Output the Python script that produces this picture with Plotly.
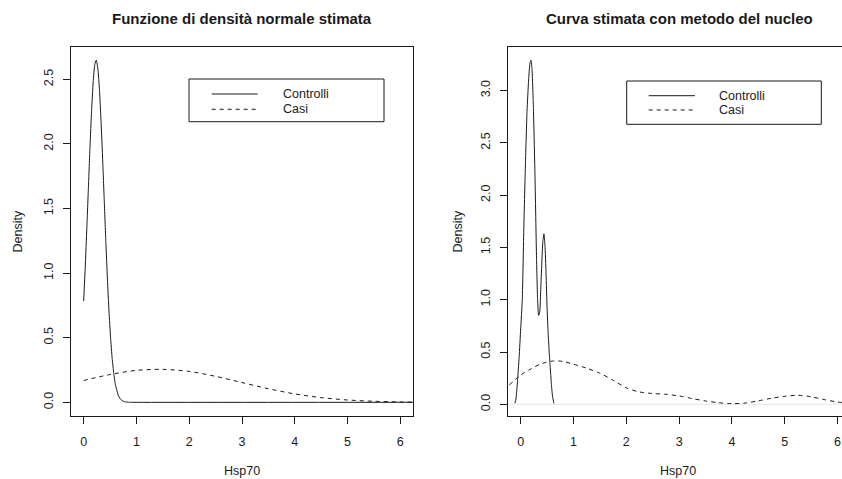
import plotly.graph_objects as go

W, H = 842, 479

# ---- Left panel: normal densities fitted to the two groups ----
norm_ctrl_x = [0.0, 0.03, 0.06, 0.09, 0.12, 0.15, 0.18, 0.21, 0.24, 0.27, 0.30,
               0.33, 0.36, 0.39, 0.42, 0.45, 0.48, 0.51, 0.54, 0.57,
               0.60, 0.66, 0.72, 0.78, 0.84, 0.90, 6.24]
norm_ctrl_y = [0.783, 1.048, 1.348, 1.666, 1.979, 2.258, 2.479, 2.614, 2.649, 2.579,
               2.414, 2.172, 1.876, 1.559, 1.245, 0.955, 0.704, 0.499, 0.340, 0.223,
               0.140, 0.049, 0.015, 0.004, 0.001, 0.0, 0.0]

norm_casi_x = [0.0, 0.5, 1.0, 1.5, 2.0, 2.5, 3.0, 3.5, 4.0, 4.5, 5.0, 5.5, 6.0, 6.24]
norm_casi_y = [0.169, 0.215, 0.247, 0.255, 0.239, 0.201, 0.153, 0.105, 0.065,
               0.036, 0.018, 0.008, 0.003, 0.002]

# ---- Right panel: kernel density estimates ----
kde_ctrl_x = [-0.11, -0.09, -0.06, -0.03, 0.0, 0.03, 0.06, 0.09, 0.12, 0.15,
              0.175, 0.195, 0.215, 0.24, 0.27, 0.30, 0.32, 0.34, 0.36, 0.38,
              0.40, 0.42, 0.44, 0.46, 0.48, 0.50, 0.52, 0.54, 0.56, 0.58,
              0.60, 0.62, 0.63]
kde_ctrl_y = [0.01, 0.05, 0.22, 0.45, 0.72, 1.0, 1.7, 2.3, 2.8, 3.1,
              3.26, 3.29, 3.2, 2.85, 2.2, 1.4, 1.0, 0.85, 0.88, 1.1,
              1.35, 1.56, 1.63, 1.52, 1.25, 0.92, 0.68, 0.50, 0.35, 0.20,
              0.09, 0.03, 0.01]

kde_casi_x = [-0.215, 0.0, 0.2, 0.4, 0.62, 0.8, 1.0, 1.25, 1.5, 1.75, 2.0,
              2.25, 2.5, 2.75, 3.0, 3.25, 3.5, 3.75, 4.0, 4.25, 4.5, 4.75,
              5.0, 5.25, 5.5, 5.75, 6.0, 6.25]
kde_casi_y = [0.185, 0.28, 0.34, 0.39, 0.414, 0.41, 0.383, 0.345, 0.297, 0.23,
              0.158, 0.118, 0.103, 0.096, 0.08, 0.055, 0.032, 0.015, 0.006,
              0.012, 0.033, 0.058, 0.076, 0.086, 0.072, 0.045, 0.022, 0.01]

x_ticks = [0, 1, 2, 3, 4, 5, 6]
y_ticks_left = [0.0, 0.5, 1.0, 1.5, 2.0, 2.5]
y_ticks_right = [0.0, 0.5, 1.0, 1.5, 2.0, 2.5, 3.0]

titles = ["Funzione di densità normale stimata", "Curva stimata con metodo del nucleo"]
legend_labels = ["Controlli", "Casi"]

FONT = "Liberation Sans, Arial, Helvetica, sans-serif"
INK = "#1a1a1a"


def px_x(p):
    return p / W


def px_y(p):
    return 1 - p / H


# plot-region pixel boxes (left, top, right, bottom)
box_l = (71, 47, 413, 416)
box_r = (507.7, 46.7, 842, 416.3)

fig = go.Figure()

solid = dict(color=INK, width=1)
dashed = dict(color=INK, width=1, dash="4px,4px")

fig.add_trace(go.Scatter(x=norm_ctrl_x, y=norm_ctrl_y, mode="lines",
                         line=dict(solid, shape="spline", smoothing=0.4),
                         xaxis="x", yaxis="y", showlegend=False))
fig.add_trace(go.Scatter(x=norm_casi_x, y=norm_casi_y, mode="lines",
                         line=dict(dashed, shape="spline", smoothing=0.8),
                         xaxis="x", yaxis="y", showlegend=False))
fig.add_trace(go.Scatter(x=kde_ctrl_x, y=kde_ctrl_y, mode="lines",
                         line=dict(solid, shape="spline", smoothing=0.5),
                         xaxis="x2", yaxis="y2", showlegend=False))
fig.add_trace(go.Scatter(x=kde_casi_x, y=kde_casi_y, mode="lines",
                         line=dict(dashed, shape="spline", smoothing=0.8),
                         xaxis="x2", yaxis="y2", showlegend=False))

tickfont = dict(family=FONT, size=12.5, color=INK)


def xaxis(box, rng, mirror=True):
    return dict(domain=[px_x(box[0]), px_x(box[2])], range=rng, anchor=None,
                showgrid=False, zeroline=False, showline=True, mirror=mirror,
                linecolor=INK, linewidth=1, ticks="outside", ticklen=7,
                tickcolor=INK, tickvals=x_ticks, tickfont=tickfont,
                ticklabelstandoff=7)


def yaxis(box, rng, ticks, mirror=True):
    return dict(domain=[px_y(box[3]), px_y(box[1])], range=rng,
                showgrid=False, zeroline=False, showline=True, mirror=mirror,
                linecolor=INK, linewidth=1, ticks="outside", ticklen=7,
                tickcolor=INK, tickvals=ticks, ticktext=[f"{t:.1f}" for t in ticks],
                tickangle=-90, tickfont=tickfont, ticklabelstandoff=5)


xa1 = xaxis(box_l, [-0.24, 6.24]); xa1["anchor"] = "y"
ya1 = yaxis(box_l, [-0.106, 2.75], y_ticks_left); ya1["anchor"] = "x"
xa2 = xaxis(box_r, [-0.246, 6.085]); xa2["anchor"] = "y2"
ya2 = yaxis(box_r, [-0.1147, 3.419], y_ticks_right, mirror=False); ya2["anchor"] = "x2"

annotations = []
shapes = []

# panel titles
for title, cx in zip(titles, [242, 679]):
    annotations.append(dict(text=f"<b>{title}</b>", x=px_x(cx), y=px_y(18),
                            xref="paper", yref="paper", showarrow=False,
                            xanchor="center", yanchor="middle",
                            font=dict(family=FONT, size=15, color=INK)))

# axis titles
for cx in [242, 678]:
    annotations.append(dict(text="Hsp70", x=px_x(cx), y=px_y(471), xref="paper",
                            yref="paper", showarrow=False, xanchor="center",
                            yanchor="middle", font=tickfont))
for cx in [17, 457]:
    annotations.append(dict(text="Density", x=px_x(cx), y=px_y(231.5), xref="paper",
                            yref="paper", showarrow=False, textangle=-90,
                            xanchor="center", yanchor="middle", font=tickfont))

# faint zero baseline of the kernel density plot
shapes.append(dict(type="line", xref="x2 domain", yref="y2", x0=0, x1=1, y0=0, y1=0,
                   line=dict(color="#e6e6e6", width=1), layer="below"))

# legends: (box l, t, r, b), line x0, x1, row ys, text x
legends = [
    ((189, 79, 384, 121.7), 211.7, 257.7, [94, 109.3], 280.7),
    ((626.7, 81, 821.3, 124.3), 648.7, 695, [95.7, 110], 716.7),
]
for (bl, bt, br, bb), lx0, lx1, rows, tx in legends:
    shapes.append(dict(type="rect", xref="paper", yref="paper",
                       x0=px_x(bl), x1=px_x(br), y0=px_y(bb), y1=px_y(bt),
                       line=dict(color=INK, width=1), fillcolor="white"))
    for label, ry, style in zip(legend_labels, rows, [solid, dashed]):
        shapes.append(dict(type="line", xref="paper", yref="paper",
                           x0=px_x(lx0), x1=px_x(lx1), y0=px_y(ry), y1=px_y(ry),
                           line=style))
        annotations.append(dict(text=label, x=px_x(tx), y=px_y(ry), xref="paper",
                                yref="paper", showarrow=False, xanchor="left",
                                yanchor="middle", font=tickfont))

fig.update_layout(
    width=W, height=H, margin=dict(l=0, r=0, t=0, b=0),
    paper_bgcolor="white", plot_bgcolor="white",
    font=dict(family=FONT, size=12.5, color=INK),
    xaxis=xa1, yaxis=ya1, xaxis2=xa2, yaxis2=ya2,
    annotations=annotations, shapes=shapes, showlegend=False,
)

fig.write_html("out.html")
